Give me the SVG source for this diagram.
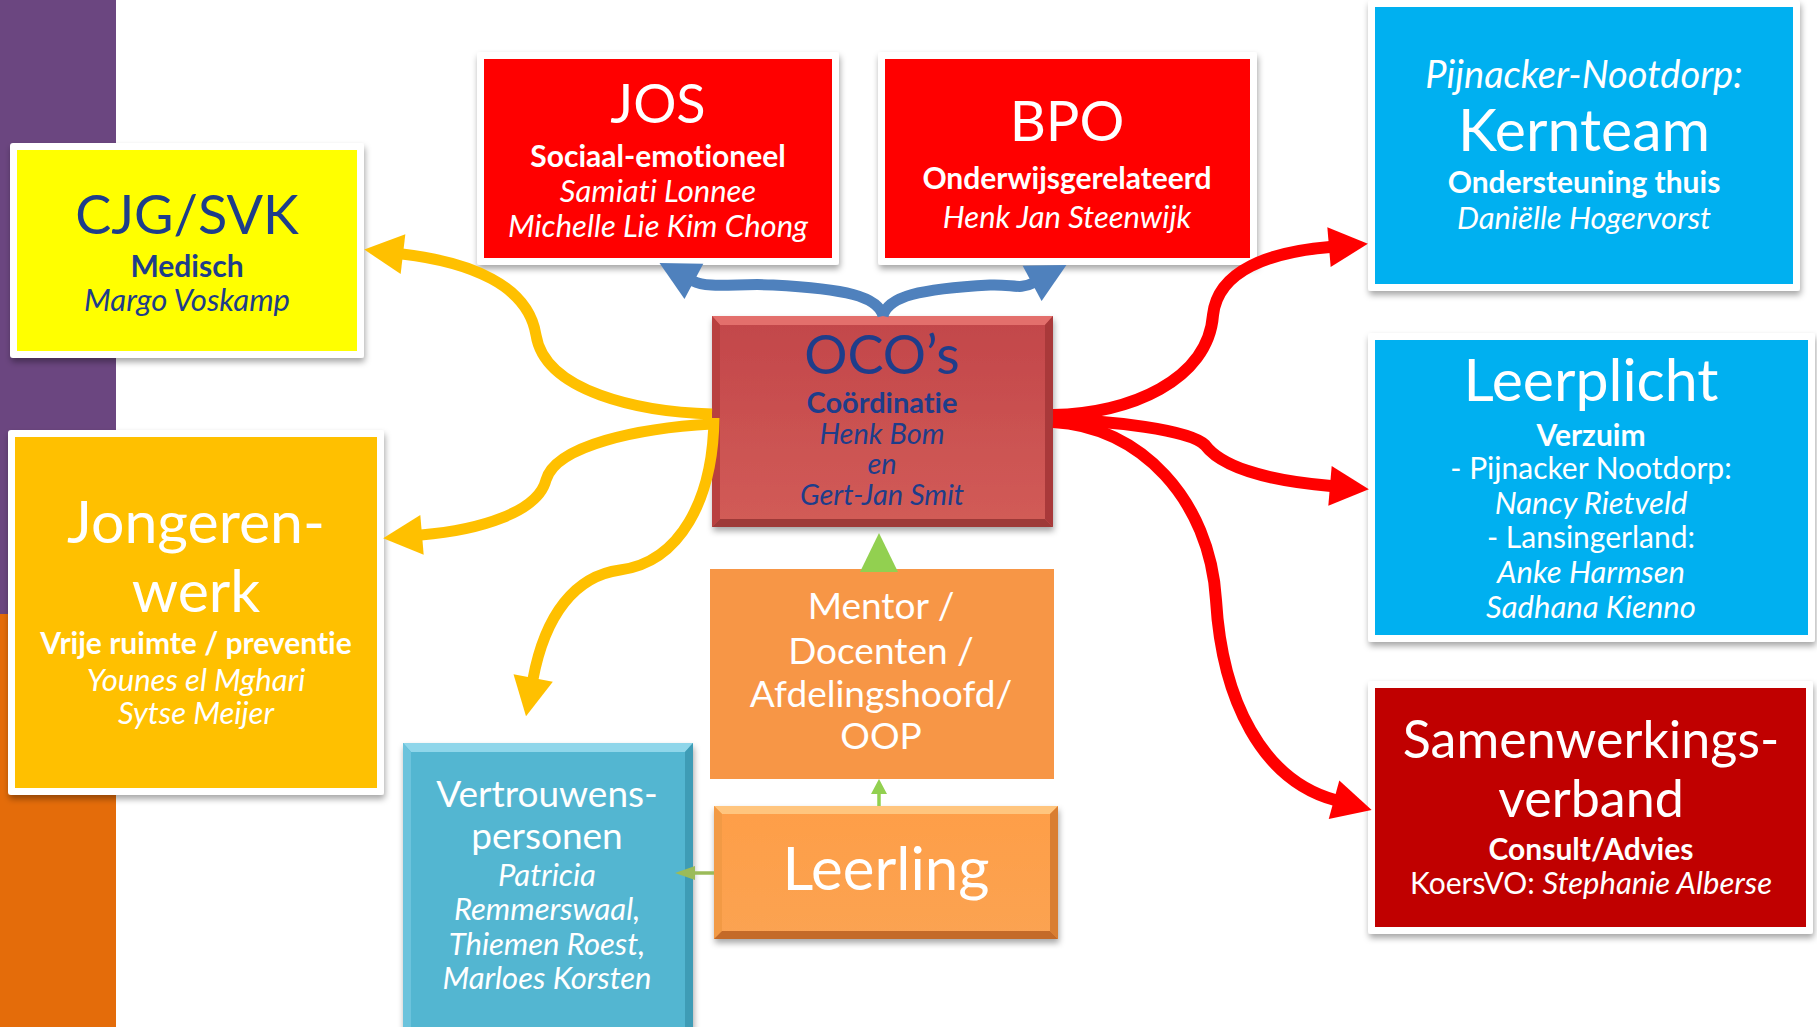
<svg xmlns="http://www.w3.org/2000/svg" width="1817" height="1027" viewBox="0 0 1817 1027">
<defs>
<style>
text{font-family:Lato,"Noto Sans","Liberation Sans",sans-serif;text-anchor:middle;font-variant-ligatures:none}
.w{fill:#ffffff}
.b{fill:#1E3D8A}
.bd{font-weight:bold;font-size:30px}
.it{font-style:italic;font-size:31px}
.rg{font-size:30px}
.frame{fill:#ffffff;filter:url(#sh)}
.con{fill:none}
.y{stroke:#FFC000;stroke-width:11}
.bl{stroke:#4F81BD;stroke-width:11}
.r{stroke:#FF0000;stroke-width:12}
</style>
<filter id="sh" x="-10%" y="-10%" width="120%" height="125%">
<feDropShadow dx="1" dy="4" stdDeviation="3" flood-color="#000" flood-opacity="0.35"/>
</filter>
<linearGradient id="gOco" x1="0" y1="0" x2="0" y2="1">
<stop offset="0" stop-color="#C2464A"/><stop offset="1" stop-color="#D25C57"/>
</linearGradient>
<linearGradient id="gLeer" x1="0" y1="0" x2="0" y2="1">
<stop offset="0" stop-color="#FE9E48"/><stop offset="1" stop-color="#FBA352"/>
</linearGradient>
<marker id="aY" markerUnits="userSpaceOnUse" viewBox="0 -22 42 44" markerWidth="42" markerHeight="44" refX="1" refY="0" orient="auto" overflow="visible"><path d="M0,-20 L39,0 L0,20 Z" fill="#FFC000"/></marker>
<marker id="aB" markerUnits="userSpaceOnUse" viewBox="0 -22 42 44" markerWidth="42" markerHeight="44" refX="1" refY="0" orient="auto" overflow="visible"><path d="M0,-20 L39,0 L0,20 Z" fill="#4F81BD"/></marker>
<marker id="aR" markerUnits="userSpaceOnUse" viewBox="0 -22 42 44" markerWidth="42" markerHeight="44" refX="1" refY="0" orient="auto" overflow="visible"><path d="M0,-20 L39,0 L0,20 Z" fill="#FF0000"/></marker>
<marker id="aG" markerUnits="userSpaceOnUse" viewBox="0 -9 16 18" markerWidth="16" markerHeight="18" refX="1" refY="0" orient="auto" overflow="visible"><path d="M0,-8 L15,0 L0,8 Z" fill="#92D050"/></marker>
<marker id="aG2" markerUnits="userSpaceOnUse" viewBox="0 -9 22 18" markerWidth="22" markerHeight="18" refX="1" refY="0" orient="auto" overflow="visible"><path d="M0,-7 L20,0 L0,7 Z" fill="#9BBB59"/></marker>
</defs>

<rect width="1817" height="1027" fill="#ffffff"/>
<rect x="0" y="0" width="116" height="614" fill="#6B4680"/>
<rect x="0" y="614" width="116" height="413" fill="#E46C0A"/>

<g id="cjg">
<rect class="frame" x="10" y="143" width="354" height="215" rx="3"/>
<rect x="17" y="150" width="340" height="201" fill="#FFFF00"/>
<text class="b" x="187" y="234" font-size="54">CJG/SVK</text>
<text class="b bd" x="187" y="277">Medisch</text>
<text class="b it" x="187" y="311">Margo Voskamp</text>
</g>

<g id="jos">
<rect class="frame" x="477" y="52" width="362" height="213" rx="3"/>
<rect x="484" y="59" width="348" height="199" fill="#FF0000"/>
<text class="w" x="658" y="123" font-size="54">JOS</text>
<text class="w bd" x="658" y="167">Sociaal-emotioneel</text>
<text class="w it" x="658" y="202">Samiati Lonnee</text>
<text class="w it" x="658" y="237">Michelle Lie Kim Chong</text>
</g>

<g id="bpo">
<rect class="frame" x="878" y="52" width="379" height="213" rx="3"/>
<rect x="885" y="59" width="365" height="199" fill="#FF0000"/>
<text class="w" x="1067" y="141" font-size="56">BPO</text>
<text class="w bd" x="1067" y="189">Onderwijsgerelateerd</text>
<text class="w it" x="1067" y="228">Henk Jan Steenwijk</text>
</g>

<g id="kernteam">
<rect class="frame" x="1368" y="0" width="432" height="291" rx="3"/>
<rect x="1375" y="7" width="418" height="277" fill="#00B0F0"/>
<text class="w it" x="1584" y="88" style="font-size:38px">Pijnacker-Nootdorp:</text>
<text class="w" x="1584" y="151" font-size="59">Kernteam</text>
<text class="w bd" x="1584" y="193">Ondersteuning thuis</text>
<text class="w it" x="1584" y="229">Daniëlle Hogervorst</text>
</g>

<g id="leerplicht">
<rect class="frame" x="1368" y="333" width="447" height="309" rx="3"/>
<rect x="1375" y="340" width="433" height="295" fill="#00B0F0"/>
<text class="w" x="1591" y="401" font-size="59">Leerplicht</text>
<text class="w bd" x="1591" y="446">Verzuim</text>
<text class="w rg" x="1591" y="479">- Pijnacker Nootdorp:</text>
<text class="w it" x="1591" y="514">Nancy Rietveld</text>
<text class="w rg" x="1591" y="548">- Lansingerland:</text>
<text class="w it" x="1591" y="583">Anke Harmsen</text>
<text class="w it" x="1591" y="618">Sadhana Kienno</text>
</g>

<g id="samenwerkingsverband">
<rect class="frame" x="1368" y="681" width="445" height="253" rx="3"/>
<rect x="1375" y="688" width="431" height="239" fill="#C00000"/>
<text class="w" x="1591" y="758" font-size="52">Samenwerkings-</text>
<text class="w" x="1591" y="817" font-size="52">verband</text>
<text class="w bd" x="1591" y="860">Consult/Advies</text>
<text class="w rg" x="1591" y="894">KoersVO: <tspan class="it">Stephanie Alberse</tspan></text>
</g>

<g id="jongerenwerk">
<rect class="frame" x="8" y="430" width="376" height="365" rx="3"/>
<rect x="15" y="437" width="362" height="351" fill="#FFC000"/>
<text class="w" x="196" y="543" font-size="59">Jongeren-</text>
<text class="w" x="196" y="612" font-size="59">werk</text>
<text class="w bd" x="196" y="654">Vrije ruimte / preventie</text>
<text class="w it" x="196" y="691">Younes el Mghari</text>
<text class="w it" x="196" y="724">Sytse Meijer</text>
</g>

<g id="oco">
<rect x="712" y="316" width="341" height="211" fill="url(#gOco)" filter="url(#sh)"/>
<polygon points="712,316 1053,316 1045,325 720,325" fill="#E36F6C"/>
<polygon points="712,316 720,325 720,519 712,527" fill="#B9403F"/>
<polygon points="1053,316 1045,325 1045,519 1053,527" fill="#A9393A"/>
<polygon points="712,527 720,519 1045,519 1053,527" fill="#9E3A38"/>
<text class="b" x="882" y="374" font-size="54">OCO’s</text>
<text class="b bd" x="882" y="413" style="font-size:29px">Coördinatie</text>
<text class="b it" x="882" y="444" style="font-size:29px">Henk Bom</text>
<text class="b it" x="882" y="474" style="font-size:29px">en</text>
<text class="b it" x="882" y="505" style="font-size:29px">Gert-Jan Smit</text>
</g>

<g id="mentor">
<rect x="710" y="569" width="344" height="210" fill="#F79646"/>
<text class="w" x="881" y="619" font-size="37">Mentor /</text>
<text class="w" x="881" y="664" font-size="37">Docenten /</text>
<text class="w" x="881" y="707" font-size="37">Afdelingshoofd/</text>
<text class="w" x="881" y="749" font-size="37">OOP</text>
</g>

<g id="leerling">
<rect x="714" y="806" width="344" height="133" fill="url(#gLeer)" filter="url(#sh)"/>
<polygon points="714,806 1058,806 1050,814 722,814" fill="#FFC57E"/>
<polygon points="714,806 722,814 722,931 714,939" fill="#F29A45"/>
<polygon points="1058,806 1050,814 1050,931 1058,939" fill="#D97E32"/>
<polygon points="714,939 722,931 1050,931 1058,939" fill="#C46A28"/>
<text class="w" x="886" y="890" font-size="60">Leerling</text>
</g>

<g id="vertrouwenspersonen">
<rect x="403" y="743" width="290" height="290" fill="#53B6D1" filter="url(#sh)"/>
<polygon points="403,743 693,743 685,752 411,752" fill="#8FD6EA"/>
<polygon points="403,743 411,752 411,1027 403,1027" fill="#6CC3DC"/>
<polygon points="693,743 685,752 685,1027 693,1027" fill="#3E9CB6"/>
<text class="w" x="547" y="807" font-size="37">Vertrouwens-</text>
<text class="w" x="547" y="849" font-size="37">personen</text>
<text class="w it" x="547" y="886">Patricia</text>
<text class="w it" x="547" y="920">Remmerswaal,</text>
<text class="w it" x="547" y="955">Thiemen Roest,</text>
<text class="w it" x="547" y="989">Marloes Korsten</text>
</g>

<g id="connectors">
<path class="con y" d="M712,414 C640,412 545,392 536,335 C528,285 470,262 402,254" marker-end="url(#aY)"/>
<path class="con y" d="M712,424 C640,428 556,445 546,480 C538,512 480,530 421,535" marker-end="url(#aY)"/>
<path class="con y" d="M714,418 C713,500 680,562 620,570 C575,576 545,615 533,679" marker-end="url(#aY)"/>
<path class="con bl" d="M883,316 C878,296 845,289 773,285 C740,283 708,289 693,281" marker-end="url(#aB)"/>
<path class="con bl" d="M883,316 C888,296 920,289 990,285 C1012,284 1020,290 1033,283" marker-end="url(#aB)"/>
<path class="con r" d="M1053,415 C1130,414 1208,380 1213,315 C1218,270 1270,252 1330,247" marker-end="url(#aR)"/>
<path class="con r" d="M1053,420 C1110,420 1190,430 1205,445 C1220,465 1260,480 1331,486" marker-end="url(#aR)"/>
<path class="con r" d="M1053,422 C1140,426 1210,500 1216,600 C1222,700 1262,780 1335,800" marker-end="url(#aR)"/>
<polygon points="879,533 898,572 860,572" fill="#92D050"/>
<path class="con" d="M879,806 L879,793" stroke="#92D050" stroke-width="3.5" marker-end="url(#aG)"/>
<path class="con" d="M714,873 L694,873" stroke="#9BBB59" stroke-width="3.5" marker-end="url(#aG2)"/>
</g>
</svg>
